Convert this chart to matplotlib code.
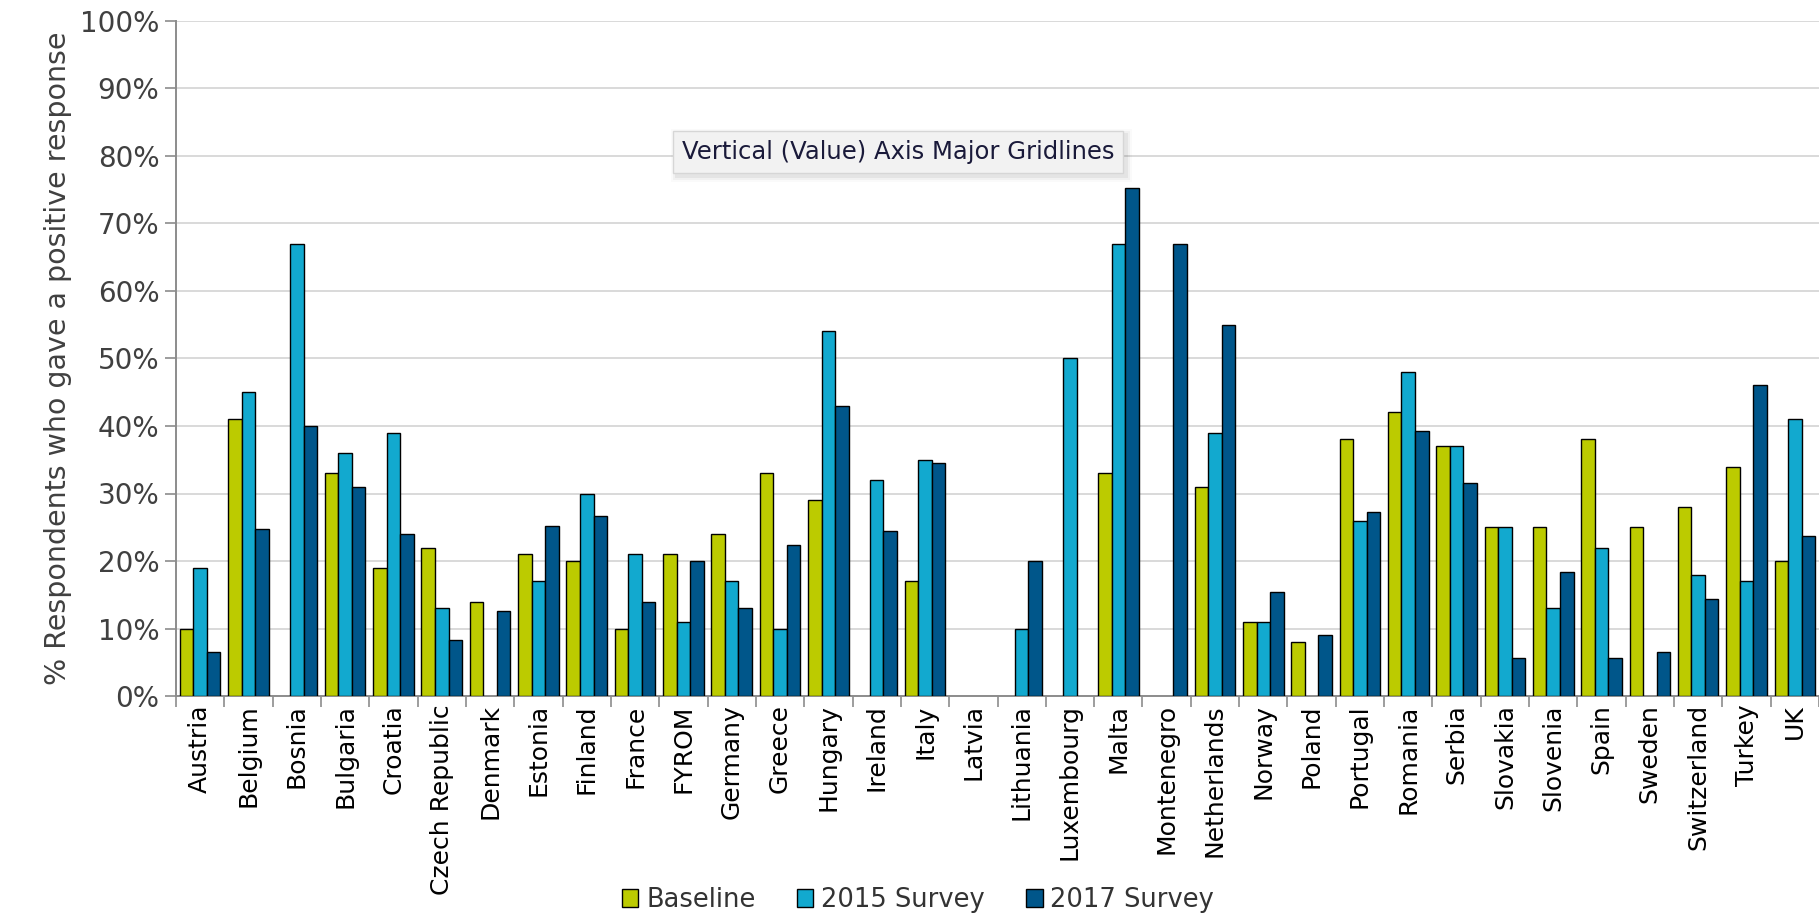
import matplotlib
matplotlib.use("Agg")
import matplotlib.pyplot as plt
from matplotlib.patches import Rectangle
import numpy as np

countries = ["Austria", "Belgium", "Bosnia", "Bulgaria", "Croatia", "Czech Republic",
             "Denmark", "Estonia", "Finland", "France", "FYROM", "Germany", "Greece",
             "Hungary", "Ireland", "Italy", "Latvia", "Lithuania", "Luxembourg", "Malta",
             "Montenegro", "Netherlands", "Norway", "Poland", "Portugal", "Romania",
             "Serbia", "Slovakia", "Slovenia", "Spain", "Sweden", "Switzerland", "Turkey", "UK"]

nan = np.nan
baseline = [10, 41, nan, 33, 19, 22, 14, 21, 20, 10, 21, 24, 33, 29, nan, 17, nan, nan, nan, 33,
            nan, 31, 11, 8, 38, 42, 37, 25, 25, 38, 25, 28, 34, 20]
survey2015 = [19, 45, 67, 36, 39, 13, nan, 17, 30, 21, 11, 17, 10, 54, 32, 35, nan, 10, 50, 67,
              nan, 39, 11, nan, 26, 48, 37, 25, 13, 22, nan, 18, 17, 41]
survey2017 = [6.5, 24.8, 40, 31, 24, 8.3, 12.6, 25.2, 26.6, 14, 20, 13, 22.3, 42.9, 24.5, 34.5,
              nan, 20, nan, 75.2, 66.9, 55, 15.4, 9, 27.3, 39.2, 31.6, 5.7, 18.3, 5.7, 6.5, 14.4,
              46.1, 23.7]
series_names = ["Baseline", "2015 Survey", "2017 Survey"]
yticks = [0, 10, 20, 30, 40, 50, 60, 70, 80, 90, 100]

colors = ["#BCCB00", "#12A9CF", "#00568A"]

fig = plt.figure(figsize=(18.19, 9.18), dpi=100)
ax = fig.add_axes([176 / 1819, 1 - 696 / 918, 1 - 176 / 1819, (696 - 21) / 918])

n = len(countries)
x = np.arange(n)
w = 0.28
for k, (vals, c, name) in enumerate(zip([baseline, survey2015, survey2017], colors, series_names)):
    ax.bar(x + (k - 1) * w, vals, width=w, color=c, edgecolor="black", linewidth=1.0,
           label=name, zorder=3)

ax.set_xlim(-0.5, n - 0.5)
ax.set_ylim(0, 100)
ax.set_yticks(yticks)
ax.set_yticklabels([f"{v}%" for v in yticks], fontsize=20, color="#404040")
ax.set_xticks(x)
ax.set_xticklabels(countries, rotation=90, fontsize=18, color="#000000")
ax.tick_params(axis="x", length=0, pad=6)
ax.set_xticks(np.arange(n + 1) - 0.5, minor=True)
ax.tick_params(axis="x", which="minor", length=8, color="#8c8c8c", width=1.2)
ax.tick_params(axis="y", length=8, color="#8c8c8c", width=1.2, pad=4)

ax.grid(axis="y", color="#d9d9d9", linewidth=1.4, zorder=0)
ax.set_axisbelow(True)
for s in ["top", "right"]:
    ax.spines[s].set_visible(False)
for s in ["left", "bottom"]:
    ax.spines[s].set_color("#8c8c8c")
    ax.spines[s].set_linewidth(1.4)

ax.set_ylabel("% Respondents who gave a positive response", fontsize=20.5, color="#404040",
              labelpad=6)

leg = fig.legend(loc="center", bbox_to_anchor=(918 / 1819, 1 - 900 / 918), ncol=3,
                 frameon=False, fontsize=18.5, handlelength=0.65, handleheight=0.75,
                 handletextpad=0.3, columnspacing=1.6)
for t in leg.get_texts():
    t.set_color("#333333")

# tooltip overlay: box with soft shadow
tx, ty = 898 / 1819, 1 - 152 / 918
tip = fig.text(tx, ty, "Vertical (Value) Axis Major Gridlines",
               ha="center", va="center", fontsize=17.5, color="#1a1a3a", zorder=10,
               bbox=dict(boxstyle="square,pad=0.35", facecolor="#f2f2f2", edgecolor="#d6d6d6",
                         linewidth=1.0))
fig.canvas.draw()
bb = tip.get_bbox_patch().get_window_extent().transformed(fig.transFigure.inverted())
for i, a in enumerate([0.05, 0.035, 0.02]):
    d = (i + 1) * 2 / 1819
    dy = (i + 1) * 2 / 918
    fig.patches.append(Rectangle((bb.x0 - d + 0.002, bb.y0 - dy - 0.004), bb.width + 2 * d,
                                 bb.height + 2 * dy, transform=fig.transFigure,
                                 facecolor="black", alpha=a, edgecolor="none", zorder=9))

fig.savefig("out.png", dpi=100)
